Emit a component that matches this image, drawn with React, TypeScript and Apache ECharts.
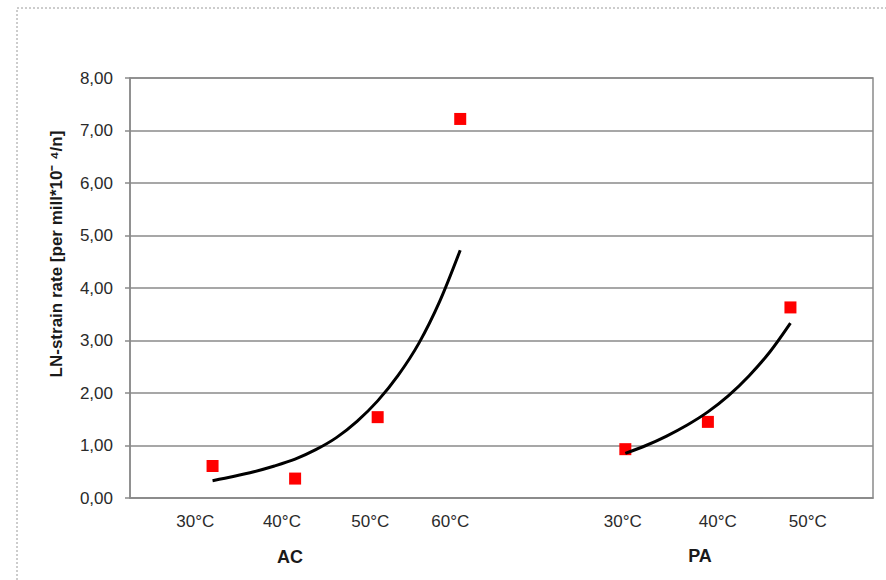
import React, { useEffect, useRef } from "react";
import * as echarts from "echarts";

// Category label texts and where they sit along the x axis
const xLabelTexts = ["30°C", "40°C", "50°C", "60°C", "30°C", "40°C", "50°C"];
const xLabelPositions = [0.79, 1.84, 2.91, 3.88, 5.97, 7.12, 8.21];
const groupNames = ["AC", "PA"];

// Measured points
const acX = [1, 2, 3, 4];
const acY = [0.61, 0.37, 1.54, 7.22];
const paX = [6, 7, 8];
const paY = [0.93, 1.45, 3.63];

// Trend curves
const acTrendX = [1, 1.25, 1.5, 1.75, 2, 2.25, 2.5, 2.75, 3, 3.25, 3.5, 3.75, 4];
const acTrendY = [0.33, 0.41, 0.5, 0.61, 0.74, 0.92, 1.15, 1.46, 1.85, 2.34, 2.95, 3.74, 4.72];
const paTrendX = [6, 6.25, 6.5, 6.75, 7, 7.25, 7.5, 7.75, 8];
const paTrendY = [0.85, 1.0, 1.18, 1.39, 1.64, 1.95, 2.33, 2.78, 3.33];

const yTitle = "LN-strain rate [per mill*10⁻ ⁴/n]";

const zip = (xs: number[], ys: number[]) => xs.map((x, i) => [x, ys[i]]);

export default function App() {
  const ref = useRef<HTMLDivElement>(null);
  useEffect(() => {
    if (!ref.current) return;
    const chart = echarts.init(ref.current, null, { renderer: "svg" });
    const font = "'Liberation Sans', Arial, sans-serif";
    chart.setOption({
      animation: false,
      backgroundColor: "#ffffff",
      textStyle: { fontFamily: font },
      grid: {
        left: 130,
        top: 78,
        right: 13,
        bottom: 82,
        show: true,
        borderColor: "#8a8a8a",
        borderWidth: 1.5,
        backgroundColor: "transparent",
      },
      xAxis: {
        type: "value",
        min: 0,
        max: 9,
        splitLine: { show: false },
        axisTick: { show: false },
        axisLine: { show: true, lineStyle: { color: "#8a8a8a", width: 1.5 } },
        axisLabel: {
          customValues: xLabelPositions,
          margin: 15,
          color: "#2a2a2a",
          fontSize: 17,
          fontFamily: font,
          formatter: (v: number) => {
            let best = 0;
            for (let i = 1; i < xLabelPositions.length; i++) {
              if (Math.abs(xLabelPositions[i] - v) < Math.abs(xLabelPositions[best] - v)) best = i;
            }
            return xLabelTexts[best];
          },
        },
      },
      yAxis: {
        type: "value",
        min: 0,
        max: 8,
        interval: 1,
        axisLine: { show: true, lineStyle: { color: "#8a8a8a", width: 1.5 } },
        axisTick: { show: true, length: 5, lineStyle: { color: "#8a8a8a", width: 1.5 } },
        splitLine: { show: true, lineStyle: { color: "#8a8a8a", width: 1.5 } },
        axisLabel: {
          margin: 17,
          color: "#2a2a2a",
          fontSize: 17,
          fontFamily: font,
          formatter: (v: number) => v.toFixed(2).replace(".", ","),
        },
      },
      graphic: [
        {
          type: "rect",
          shape: { x: 17, y: 8, width: 900, height: 600 },
          style: { fill: "none", stroke: "#9a9a9a", lineWidth: 1, lineDash: [2, 2] },
          silent: true,
        },
        {
          type: "text",
          x: 56,
          y: 254,
          rotation: Math.PI / 2,
          style: {
            text: yTitle,
            font: `bold 17px ${font}`,
            fill: "#1a1a1a",
            textAlign: "center",
            textVerticalAlign: "middle",
          },
        },
        {
          type: "text",
          x: 290,
          y: 557,
          style: {
            text: groupNames[0],
            font: `bold 18px ${font}`,
            fill: "#1a1a1a",
            textAlign: "center",
            textVerticalAlign: "middle",
          },
        },
        {
          type: "text",
          x: 700,
          y: 556,
          style: {
            text: groupNames[1],
            font: `bold 18px ${font}`,
            fill: "#1a1a1a",
            textAlign: "center",
            textVerticalAlign: "middle",
          },
        },
      ],
      series: [
        {
          name: "AC",
          type: "scatter",
          symbol: "rect",
          symbolSize: 12,
          itemStyle: { color: "#ff0000", opacity: 1 },
          data: zip(acX, acY),
          z: 2,
        },
        {
          name: "PA",
          type: "scatter",
          symbol: "rect",
          symbolSize: 12,
          itemStyle: { color: "#ff0000", opacity: 1 },
          data: zip(paX, paY),
          z: 2,
        },
        {
          name: "AC trend",
          type: "line",
          smooth: 0.3,
          showSymbol: false,
          lineStyle: { color: "#000000", width: 3 },
          data: zip(acTrendX, acTrendY),
          z: 3,
        },
        {
          name: "PA trend",
          type: "line",
          smooth: 0.3,
          showSymbol: false,
          lineStyle: { color: "#000000", width: 3 },
          data: zip(paTrendX, paTrendY),
          z: 3,
        },
      ],
    });
    return () => chart.dispose();
  }, []);
  return (
    <div
      ref={ref}
      style={{ position: "fixed", left: 0, top: 0, width: 886, height: 580 }}
    />
  );
}
